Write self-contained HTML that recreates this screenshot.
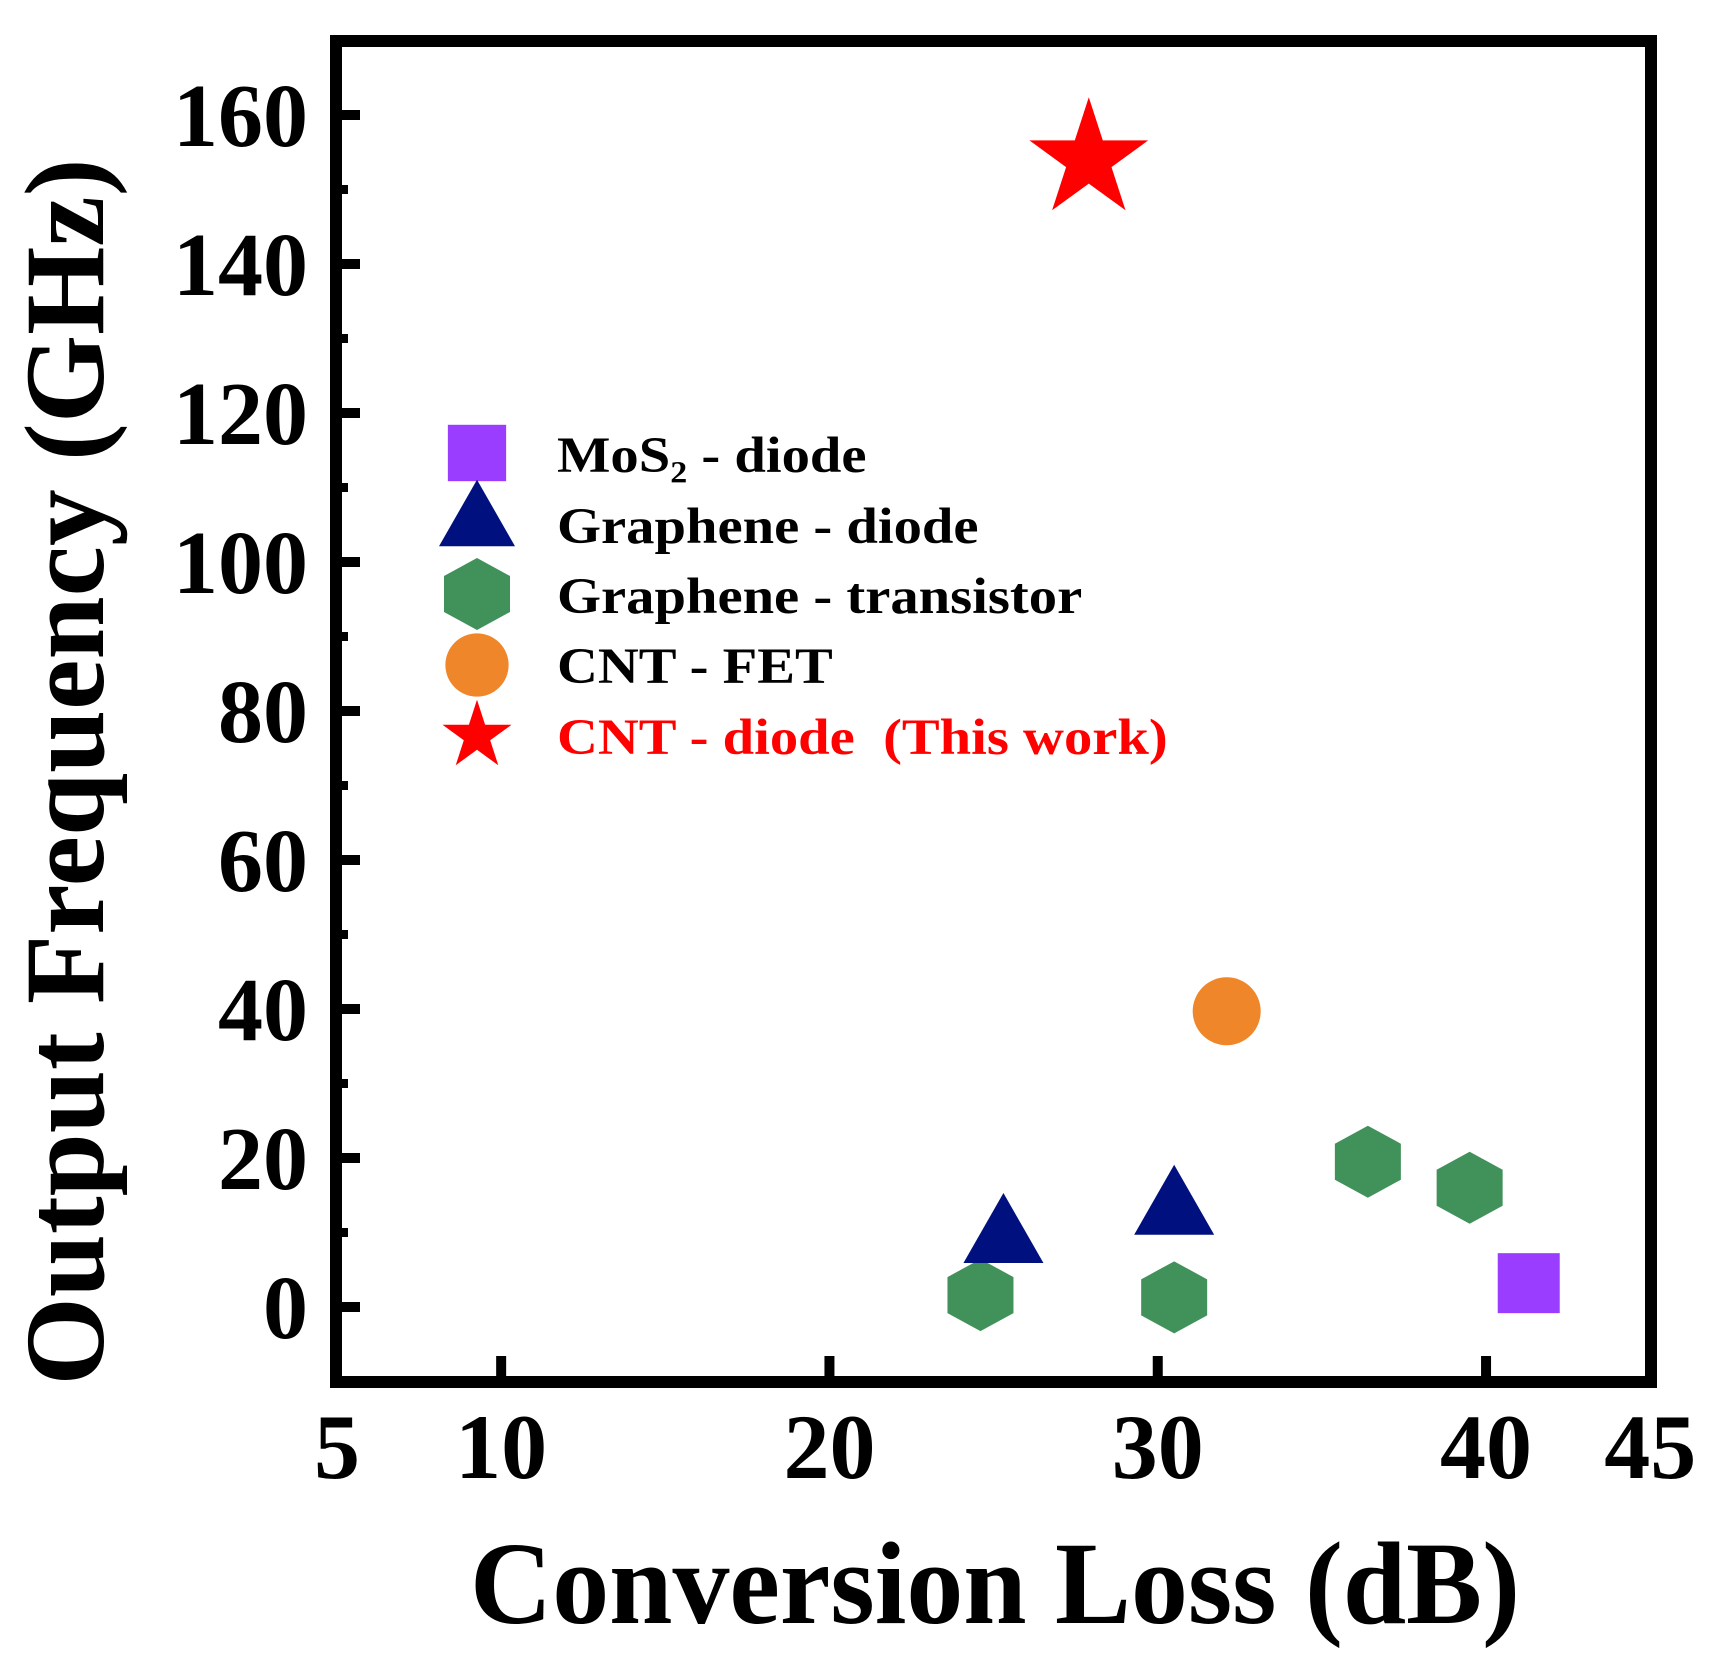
<!DOCTYPE html>
<html><head><meta charset="utf-8"><style>
html,body{margin:0;padding:0;background:#fff;}
svg{display:block;}
text{font-family:"Liberation Serif",serif;font-weight:bold;}
</style></head>
<body>
<svg id="chart" width="1720" height="1656" viewBox="0 0 1720 1656" xmlns="http://www.w3.org/2000/svg">
<g id="ticks"></g>
<g id="marks"></g>
<rect x="336" y="41" width="1315" height="1341" fill="none" stroke="#000" stroke-width="12"/>
<g id="legend"></g>
<text x="995" y="1623" font-size="118" text-anchor="middle" textLength="1050" lengthAdjust="spacingAndGlyphs">Conversion Loss (dB)</text>
<text transform="translate(103,772) rotate(-90)" x="0" y="0" font-size="113" text-anchor="middle" textLength="1227" lengthAdjust="spacingAndGlyphs">Output Frequency (GHz)</text>
</svg>
<script>
const xTicks = [5, 10, 20, 30, 40, 45];
const xMajor = [10, 20, 30, 40];
const yTicks = [0, 20, 40, 60, 80, 100, 120, 140, 160];
const yMinor = [-10, 10, 30, 50, 70, 90, 110, 130, 150, 170];
const seriesNames = ["MoS\u2082 - diode", "Graphene - diode", "Graphene - transistor", "CNT - FET", "CNT - diode\u00a0\u00a0(This work)"];
const mosX = [41.3];
const mosY = [3.2];
const gdX = [25.3, 30.5];
const gdY = [10.6, 14.4];
const gtX = [24.6, 30.5, 36.4, 39.5];
const gtY = [1.6, 1.3, 19.5, 16.0];
const cfX = [32.1];
const cfY = [39.7];
const cdX = [27.9];
const cdY = [154.0];

const NS = "http://www.w3.org/2000/svg";
function sx(v){ return 337 + (v - 5) * 32.83; }
function sy(v){ return 1307 - v * 7.45; }
function mk(tag, attrs, parent){
  const e = document.createElementNS(NS, tag);
  for (const k in attrs) e.setAttribute(k, attrs[k]);
  parent.appendChild(e);
  return e;
}
function shape(kind, cx, cy, s, parent){
  let e;
  if (kind === 0) {
    e = mk("rect", {x: cx - 31*s, y: cy - 30*s, width: 62*s, height: 60*s, fill: "#9b3dff"}, parent);
  } else if (kind === 1) {
    const w = 40*s, h = 35*s;
    e = mk("polygon", {points: `${cx},${cy-h} ${cx+w},${cy+h} ${cx-w},${cy+h}`, fill: "#00117f"}, parent);
  } else if (kind === 2) {
    const w = 33*s, h = 36*s;
    e = mk("polygon", {points: `${cx},${cy-h} ${cx+w},${cy-h/2} ${cx+w},${cy+h/2} ${cx},${cy+h} ${cx-w},${cy+h/2} ${cx-w},${cy-h/2}`, fill: "#41915a"}, parent);
  } else if (kind === 3) {
    e = mk("circle", {cx: cx, cy: cy, r: 34*s, fill: "#ef862a"}, parent);
  } else {
    const R = 62.5*s, r = R*0.382;
    let pts = [];
    for (let i = 0; i < 10; i++) {
      const a = -Math.PI/2 + i*Math.PI/5;
      const rr = i % 2 ? r : R;
      pts.push((cx + rr*Math.cos(a)).toFixed(1) + "," + (cy + rr*Math.sin(a)).toFixed(1));
    }
    e = mk("polygon", {points: pts.join(" "), fill: "#ff0000"}, parent);
  }
  return e;
}

const ticks = document.getElementById("ticks");
xTicks.forEach(v => {
  const t = mk("text", {x: sx(v), y: 1478, "font-size": 92, "text-anchor": "middle"}, ticks);
  t.textContent = v;
  
  
});
xMajor.forEach(v => {
  const l = mk("line", {x1: sx(v), x2: sx(v), y1: 1382, y2: 1356, stroke: "#000", "stroke-width": 10}, ticks);
  
  
});
yTicks.forEach(v => {
  const t = mk("text", {x: 308, y: sy(v) + 31, "font-size": 90, "text-anchor": "end"}, ticks);
  t.textContent = v;
  
  
  const l = mk("line", {x1: 336, x2: 360, y1: sy(v), y2: sy(v), stroke: "#000", "stroke-width": 10}, ticks);
  
  
});
yMinor.forEach(v => {
  const l = mk("line", {x1: 336, x2: 348, y1: sy(v), y2: sy(v), stroke: "#000", "stroke-width": 9}, ticks);
  
  
});

const marks = document.getElementById("marks");
const sets = [[mosX, mosY], [gdX, gdY], [gtX, gtY], [cfX, cfY], [cdX, cdY]];
const markNames = ["mos2-diode-point", "graphene-diode-point", "graphene-transistor-point", "cnt-fet-point", "cnt-diode-star"];
[2, 0, 1, 3, 4].forEach(k => {
  const [xs, ys] = sets[k];
  xs.forEach((xv, i) => {
    const e = shape(k, sx(xv), sy(ys[i]), 1, marks);
    
    
  });
});

const legend = document.getElementById("legend");
const legY = [453, 513, 594, 665, 736];
const legBase = [472, 543, 613, 683, 754];
const legScale = [0.94, 0.95, 1.0, 0.93, 0.58];
seriesNames.forEach((n, k) => {
  const m = shape(k, 477, legY[k], legScale[k], legend);
  
  
  const t = mk("text", {x: 557, y: legBase[k], "font-size": 51, fill: k === 4 ? "#ff0000" : "#000"}, legend);
  t.textContent = n;
  
  
  const len = t.getComputedTextLength();
  if (len > 0) {
    t.setAttribute('textLength', (len * 1.11).toFixed(1));
    t.setAttribute('lengthAdjust', 'spacingAndGlyphs');
  }
});
</script>
</body></html>
